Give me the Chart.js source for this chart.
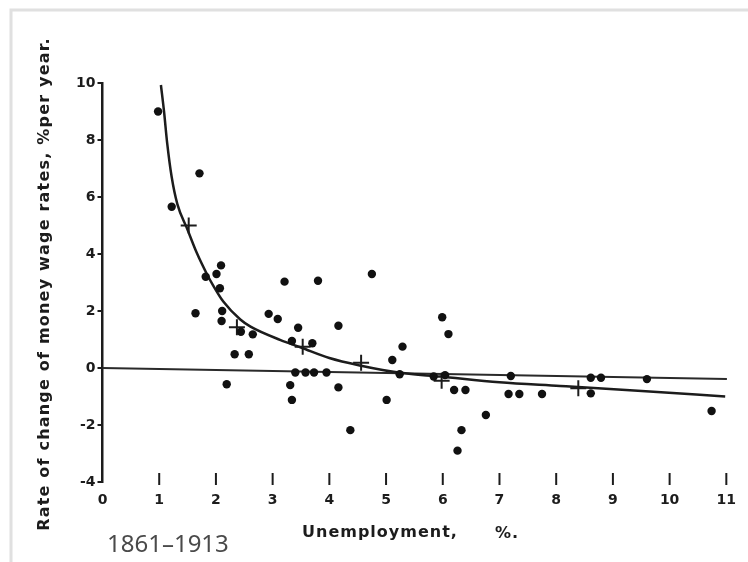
<!DOCTYPE html>
<html>
<head>
<meta charset="utf-8">
<script src="https://cdn.jsdelivr.net/npm/chart.js@4.4.1/dist/chart.umd.min.js"></script>
<style>
  html, body { margin: 0; padding: 0; background: #fff; }
  #wrap { width: 748px; height: 562px; position: relative; }
</style>
</head>
<body>
<div id="wrap"><canvas id="phillips" width="748" height="562"></canvas></div>
<script>
// yearly observations, 1861-1913 (unemployment %, wage change %)
const obsX = [0.98, 1.22, 1.71, 2.09, 2.01, 1.82, 2.07, 1.64, 2.11, 2.10,
  2.44, 2.65, 2.33, 2.58, 2.19, 2.93, 3.09, 3.21, 3.80, 3.45,
  3.34, 3.70, 3.40, 3.58, 3.73, 3.95, 3.31, 3.34, 4.16, 4.75,
  4.16, 4.37, 5.01, 5.11, 5.29, 5.24, 5.84, 6.04, 5.99, 6.10,
  6.20, 6.40, 6.76, 6.33, 6.26, 7.20, 7.16, 7.35, 7.75, 8.61,
  8.79, 9.60, 8.61, 10.74];
const obsY = [9.0, 5.66, 6.83, 3.6, 3.3, 3.2, 2.8, 1.92, 2.0, 1.65,
  1.27, 1.18, 0.48, 0.48, -0.57, 1.9, 1.72, 3.03, 3.06, 1.41,
  0.95, 0.87, -0.16, -0.16, -0.16, -0.16, -0.6, -1.12, 1.48, 3.3,
  -0.68, -2.18, -1.12, 0.28, 0.75, -0.22, -0.3, -0.25, 1.78, 1.19,
  -0.77, -0.77, -1.65, -2.18, -2.9, -0.28, -0.91, -0.91, -0.91, -0.34,
  -0.34, -0.39, -0.89, -1.51];

// group averages (crosses)
const crossX = [1.52, 2.37, 3.53, 4.56, 5.98, 8.39];
const crossY = [5.0, 1.43, 0.75, 0.18, -0.45, -0.71];

// fitted curve
const curveX = [1.03, 1.085, 1.14, 1.22, 1.32, 1.5, 1.66, 1.84, 1.95, 2.13,
  2.43, 2.61, 3.14, 3.5, 4.0, 4.56, 5.25, 5.96, 7.0, 8.07, 9.44, 10.98];
const curveY = [9.93, 9.0, 7.9, 6.7, 5.75, 4.85, 4.05, 3.3, 2.9, 2.33,
  1.7, 1.45, 0.98, 0.72, 0.35, 0.08, -0.17, -0.3, -0.5, -0.63, -0.8, -1.0];

// the near-zero baseline
const baseX = [0, 11.01];
const baseY = [0, -0.39];

const xTicks = [0, 1, 2, 3, 4, 5, 6, 7, 8, 9, 10, 11];
const yTicks = [-4, -2, 0, 2, 4, 6, 8, 10];

const ink = '#1c1c1c';
const pts = (xs, ys) => xs.map((x, i) => ({ x: x, y: ys[i] }));

const decor = {
  id: 'decor',
  beforeDraw(chart) {
    const c = chart.ctx;
    c.save();
    c.strokeStyle = '#e0e0e0';
    c.lineWidth = 3;
    c.strokeRect(11, 10, 760, 580);
    c.restore();
  },
  afterDraw(chart) {
    const c = chart.ctx;
    const xs = chart.scales.x;
    const bottom = chart.chartArea.bottom;
    c.save();
    c.strokeStyle = ink;
    c.lineWidth = 2;
    xTicks.forEach(v => {
      if (v === 0) return;
      const px = xs.getPixelForValue(v);
      c.beginPath();
      c.moveTo(px, bottom - 9);
      c.lineTo(px, bottom + 3);
      c.stroke();
    });
    c.fillStyle = ink;
    c.font = 'bold 16px "DejaVu Sans"';
    c.textBaseline = 'alphabetic';
    c.textAlign = 'left';
    c.letterSpacing = '1px';
    c.fillText('Unemployment,', 302, 537);
    c.fillText('%.', 495, 538);

    c.save();
    c.translate(45, 284);
    c.rotate(-Math.PI / 2);
    c.textAlign = 'center';
    c.textBaseline = 'middle';
    c.letterSpacing = '1.2px';
    c.fillText('Rate of change of money wage rates, %per year.', 0, 0);
    c.restore();

    c.letterSpacing = '0px';
    c.fillStyle = '#4a4a4a';
    c.font = '24px "Noto Sans"';
    c.fillText('1861–1913', 107, 552);
    c.restore();
  }
};

new Chart(document.getElementById('phillips'), {
  type: 'scatter',
  data: {
    datasets: [
      {
        data: pts(obsX, obsY),
        pointRadius: 4.2,
        pointBackgroundColor: '#111',
        pointBorderWidth: 0,
        showLine: false
      },
      {
        data: pts(crossX, crossY),
        pointStyle: 'cross',
        pointRadius: 8,
        pointBorderColor: ink,
        pointBorderWidth: 2,
        showLine: false
      },
      {
        data: pts(curveX, curveY),
        showLine: true,
        borderColor: ink,
        borderWidth: 2.5,
        pointRadius: 0,
        cubicInterpolationMode: 'monotone'
      },
      {
        data: pts(baseX, baseY),
        showLine: true,
        borderColor: '#2a2a2a',
        borderWidth: 2,
        pointRadius: 0
      }
    ]
  },
  options: {
    responsive: false,
    animation: false,
    layout: { padding: { left: 0, top: 83, right: 16, bottom: 0 } },
    plugins: {
      legend: { display: false },
      tooltip: { enabled: false }
    },
    scales: {
      x: {
        type: 'linear',
        min: 0,
        max: 11.1,
        afterBuildTicks: s => { s.ticks = xTicks.map(v => ({ value: v })); },
        afterFit: s => { s.height = 80; },
        border: { display: false },
        grid: { display: false, drawTicks: false },
        ticks: { color: ink, padding: 10, font: { family: 'DejaVu Sans', weight: 'bold', size: 14 } }
      },
      y: {
        min: -4,
        max: 10,
        afterBuildTicks: s => { s.ticks = yTicks.map(v => ({ value: v })); },
        afterFit: s => { s.width = 102.5; },
        border: { display: true, color: ink, width: 2.5 },
        grid: { drawOnChartArea: false, drawTicks: true, tickLength: 5, color: ink, lineWidth: 2 },
        ticks: { color: ink, padding: 2, font: { family: 'DejaVu Sans', weight: 'bold', size: 14 } }
      }
    }
  },
  plugins: [decor]
});
</script>
</body>
</html>
